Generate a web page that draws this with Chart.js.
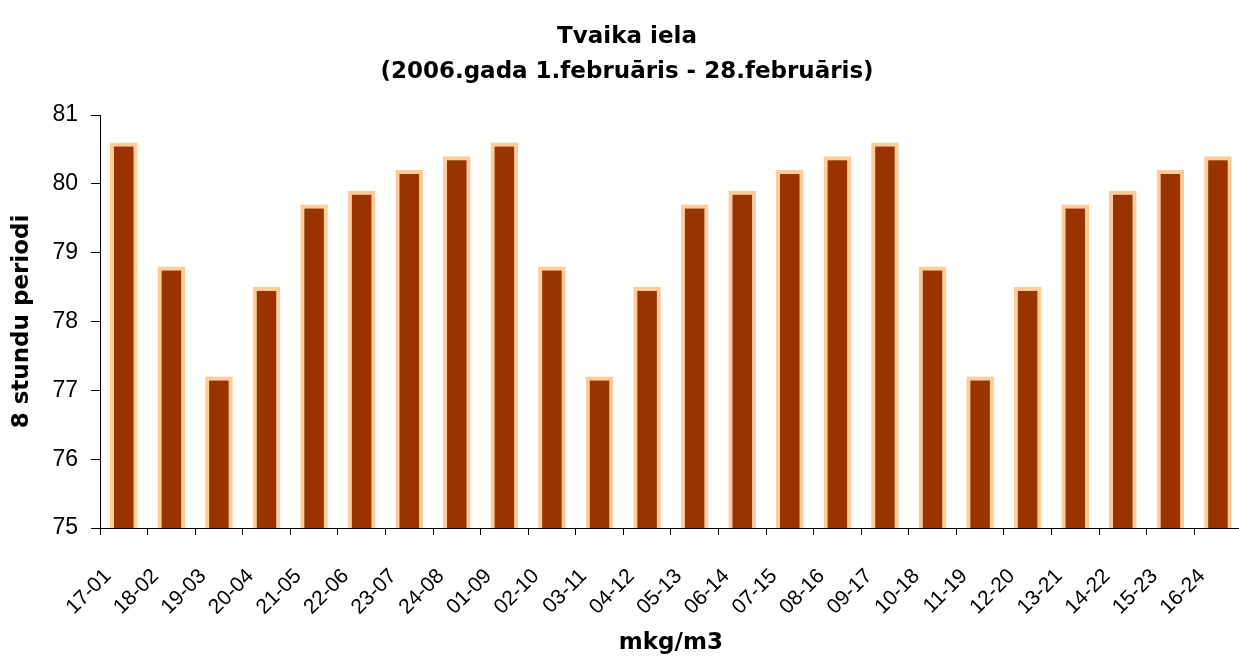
<!DOCTYPE html>
<html>
<head>
<meta charset="utf-8">
<script src="https://cdn.jsdelivr.net/npm/chart.js@4.4.1/dist/chart.umd.min.js"></script>
<style>
	html, body { margin: 0; padding: 0; background: #fff; }
	#wrap { width: 1239px; height: 657px; overflow: hidden; position: relative; }
	#myChart { display: block; }
</style>
</head>
<body>
<div id="wrap"><canvas id="myChart" width="1265" height="657"></canvas></div>
<script>
	var periods = ["17-01", "18-02", "19-03", "20-04", "21-05", "22-06", "23-07", "24-08",
		"01-09", "02-10", "03-11", "04-12", "05-13", "06-14", "07-15", "08-16",
		"09-17", "10-18", "11-19", "12-20", "13-21", "14-22", "15-23", "16-24"];

	var values = [80.6, 78.8, 77.2, 78.5, 79.7, 79.9, 80.2, 80.4,
		80.6, 78.8, 77.2, 78.5, 79.7, 79.9, 80.2, 80.4,
		80.6, 78.8, 77.2, 78.5, 79.7, 79.9, 80.2, 80.4];

	var yMin = 75;
	var yMax = 81;

	var titleLines = ["Tvaika iela", "(2006.gada 1.februāris - 28.februāris)"];
	var xTitle = "mkg/m3";
	var yTitle = "8 stundu periodi";

	var ctx = document.getElementById("myChart");

	var data = {
		labels: periods,
		datasets: [
			{
				data: values,
				backgroundColor: "#993300",
				borderColor: "#FFCC99",
				borderWidth: 4,
				barPercentage: 0.58,
				categoryPercentage: 1
			}
		]
	};

	var options = {
		responsive: false,
		animation: false,
		layout: {
			padding: { left: 0, right: 11, top: 0, bottom: 0 }
		},
		plugins: {
			legend: { display: false },
			tooltip: { enabled: false },
			title: {
				display: true,
				text: titleLines,
				color: "#000",
				font: { family: "DejaVu Sans", size: 23, weight: "bold", lineHeight: 1.5 },
				padding: { top: 20, bottom: 26 }
			}
		},
		scales: {
			x: {
				grid: {
					display: true,
					drawOnChartArea: false,
					drawTicks: true,
					tickLength: 7,
					tickColor: "#000",
					offset: true
				},
				border: { display: true, color: "#000", width: 1 },
				ticks: {
					color: "#000",
					autoSkip: false,
					minRotation: 45,
					maxRotation: 45,
					padding: 29,
					labelOffset: -16,
					font: { family: "Liberation Sans", size: 21 }
				},
				title: {
					display: true,
					text: xTitle,
					color: "#000",
					font: { family: "DejaVu Sans", size: 23, weight: "bold" },
					padding: { top: 0, bottom: 0 }
				},
				afterFit: function(scale) { scale.height = 129; }
			},
			y: {
				min: yMin,
				max: yMax,
				grid: {
					display: true,
					drawOnChartArea: false,
					drawTicks: true,
					tickLength: 9,
					tickColor: "#000"
				},
				border: { display: true, color: "#000", width: 1 },
				ticks: {
					stepSize: 1,
					color: "#000",
					padding: 13,
					font: { family: "Liberation Sans", size: 23 }
				},
				title: {
					display: true,
					text: yTitle,
					color: "#000",
					font: { family: "DejaVu Sans", size: 23, weight: "bold" },
					padding: { top: 8, bottom: 0 }
				},
				afterFit: function(scale) { scale.width = 100; }
			}
		}
	};

	var myBarChart = new Chart(ctx, {
		type: "bar",
		data: data,
		options: options
	});
</script>
</body>
</html>
